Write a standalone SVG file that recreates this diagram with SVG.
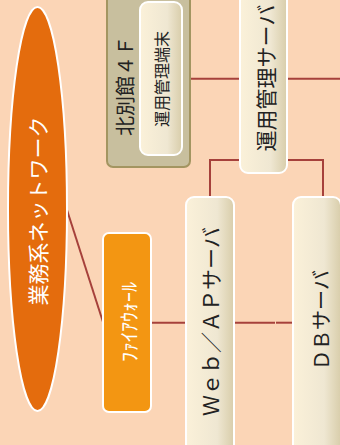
<svg xmlns="http://www.w3.org/2000/svg" width="340" height="445" viewBox="0 0 340 445">
<defs>
<linearGradient id="cream" x1="0" y1="0" x2="1" y2="0">
<stop offset="0" stop-color="#FBF1D9"/>
<stop offset="0.65" stop-color="#EFE7D2"/>
<stop offset="1" stop-color="#D8CDAA"/>
</linearGradient>
<style>
.c{fill:none;stroke:#A6413B;stroke-width:2}
.box{fill:url(#cream);stroke:#fff;stroke-width:2}
.t{font-family:"Noto Sans CJK JP","Noto Sans",sans-serif;text-anchor:middle;dominant-baseline:central;fill:#222}
.w{fill:#fff}
</style>
</defs>
<rect width="340" height="445" fill="#FBD5B6"/>
<g id="connectors">
<path class="c" d="M190 78.7H240"/>
<path class="c" d="M287 78.7H340"/>
<path class="c" d="M210 197V160H240"/>
<path class="c" d="M287 160H323V197"/>
<path class="c" d="M67 210L103 322"/>
<path class="c" d="M151 322.7H186"/>
<path class="c" d="M234 322.7H275"/>
<path class="c" d="M276 322.7H293"/>
</g>
<g id="network">
<ellipse cx="37.5" cy="209" rx="29.5" ry="202" fill="#E46C0D" stroke="#fff" stroke-width="2"/>
<text class="t w" font-size="21" transform="translate(37,211) rotate(-90)">業務系ネットワーク</text>
</g>
<g id="building">
<rect x="107" y="-10" width="83" height="177" rx="6" fill="#C8BF9E" stroke="#A39561" stroke-width="2"/>
<text class="t" font-size="20" transform="translate(124,86) rotate(-90)">北別館４Ｆ</text>
</g>
<g id="terminal">
<rect class="box" x="140" y="2" width="42" height="153" rx="8"/>
<text class="t" font-size="16" transform="translate(161,79) rotate(-90)">運用管理端末</text>
</g>
<g id="mgmt-server">
<rect class="box" x="240" y="-10" width="47" height="183" rx="8"/>
<text class="t" font-size="21" transform="translate(265,78) rotate(-90)">運用管理サーバ</text>
</g>
<g id="firewall">
<rect x="103" y="233" width="48" height="179" rx="6" fill="#F39612" stroke="#fff" stroke-width="2"/>
<text class="t w" font-size="20" transform="translate(128,322) rotate(-90)">ﾌｧｲｱｳｫｰﾙ</text>
</g>
<g id="web-server">
<rect class="box" x="186" y="197" width="48" height="260" rx="8"/>
<text class="t" font-size="21" transform="translate(210,321.5) rotate(-90)">Ｗｅｂ／ＡＰサーバ</text>
</g>
<g id="db-server">
<rect class="box" x="293" y="197" width="48" height="260" rx="8"/>
<text class="t" font-size="20" transform="translate(320,320) rotate(-90)">ＤＢサーバ</text>
</g>
</svg>
